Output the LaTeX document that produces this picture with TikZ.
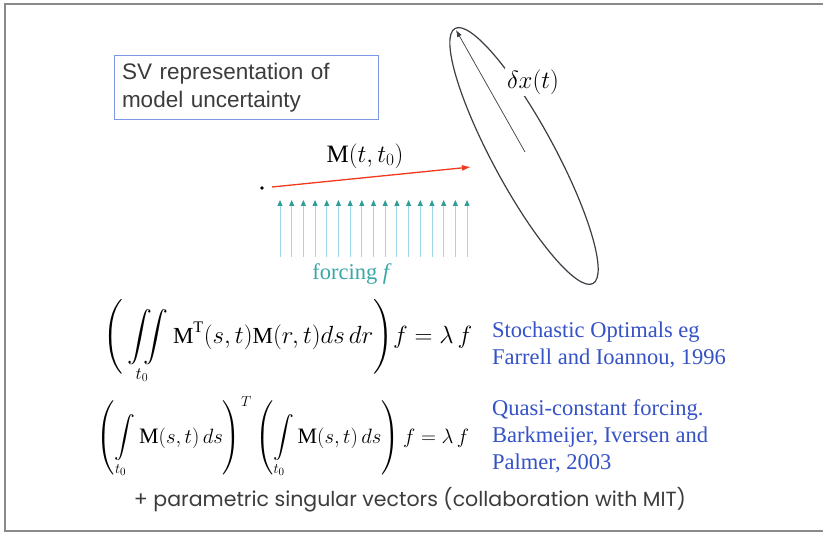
\documentclass[tikz,border=0pt]{standalone}
\usepackage{amsmath}
\usepackage{fontspec}
\setmainfont{Liberation Serif}
\newfontfamily\arialf{Liberation Sans}
\newfontfamily\gothicf{Poppins}
\usetikzlibrary{arrows.meta}
\definecolor{boxblue}{HTML}{7E98E6}
\definecolor{txtgray}{HTML}{3C3C3C}
\definecolor{refblue}{HTML}{3552C6}
\definecolor{forceline}{HTML}{9ED6EA}
\definecolor{forcehead}{HTML}{2E9E96}
\definecolor{forcetxt}{HTML}{3AA6A8}
\definecolor{arrred}{HTML}{F03A1E}
\definecolor{framegray}{HTML}{8A8A8A}
\definecolor{ellcol}{HTML}{3A3F45}
\tikzset{
  frameline/.style={framegray, line width=1.5pt},
  svbox/.style={draw=boxblue, line width=1pt, align=left, text width=248pt, minimum height=64pt, inner xsep=8pt, inner ysep=4pt, text=txtgray, font=\arialf\fontsize{22.5}{28}\selectfont},
  eqn/.style={inner sep=0pt, font=\fontsize{22}{26}\selectfont},
  reftext/.style={align=left, text=refblue, anchor=base west, font=\fontsize{22.5}{27}\selectfont, inner sep=0pt},
  forcearrow/.style={forceline, line width=0.9pt, -{Triangle[color=forcehead, length=6pt, width=5pt]}},
}
\begin{document}
\begin{tikzpicture}[x=1pt,y=-1pt]
\useasboundingbox (0,0) rectangle (823,534);
\fill[white] (0,0) rectangle (823,534);
\draw[frameline] (823,4) -- (5,4) -- (5,531) -- (823,531);

% SV box
\node[svbox] (sv) at (246,88) {SV representation of\\model uncertainty};

% ellipse
\coordinate (ec) at (524,156);
\coordinate (etop) at (456,30);
\coordinate (estart) at (525,152);
\draw[ellcol, line width=1.2pt, rotate around={-61.6:(ec)}] (ec) ellipse [x radius=145, y radius=31];
\draw[ellcol, line width=0.7pt, -{Latex[length=7pt, width=5pt]}] (estart) -- (etop);
\node[fill=white, inner sep=2pt, font=\fontsize{26}{30}\selectfont] (dx) at (533,82) {$\delta x(t)$};

% red arrow
\node[circle, fill=black, inner sep=1.3pt] (dot) at (262,188) {};
\coordinate (mend) at (471,167);
\draw[arrred, line width=1.3pt, -{Latex[length=9pt, width=6pt]}, shorten <=8pt] (dot) -- (mend);
\node[font=\fontsize{25}{28}\selectfont] (mlab) at (365,156) {$\mathrm{M}(t,t_0)$};

% forcing arrows
\foreach \i in {0,...,16} {
  \coordinate (fb\i) at ({280+\i*11.69},257);
  \coordinate (ft\i) at ({280+\i*11.69},200);
  \draw[forcearrow] (fb\i) -- (ft\i);
}
\node[text=forcetxt, inner sep=1pt, font=\fontsize{22.5}{24}\selectfont] (forcing) at (352,274) {forcing \textit{f}};

% equations
\node[eqn, font=\fontsize{23}{28}\selectfont] (eq1) at (288,342) {$\displaystyle\Bigg(\iint\limits_{t_0}\mathrm{M}^{\mathrm{T}}(s,t)\mathrm{M}(r,t)ds\,dr\Bigg)f=\lambda\,f$};
\node[eqn] (eq2) at (283,437) {$\displaystyle\left(\int\limits_{t_0}\mathrm{M}(s,t)\,ds\right)^{T}\left(\int\limits_{t_0}\mathrm{M}(s,t)\,ds\right)f=\lambda\,f$};

% references
\node[reftext] (ref1) at (492,365) {Stochastic Optimals eg\\Farrell and Ioannou, 1996};
\node[reftext] (ref2) at (492,470) {Quasi-constant forcing.\\Barkmeijer, Iversen and\\Palmer, 2003};

% bottom note
\node[text=txtgray, font=\gothicf\fontsize{20.5}{24}\selectfont] (note) at (410,500) {+ parametric singular vectors (collaboration with MIT)};
\end{tikzpicture}
\end{document}
